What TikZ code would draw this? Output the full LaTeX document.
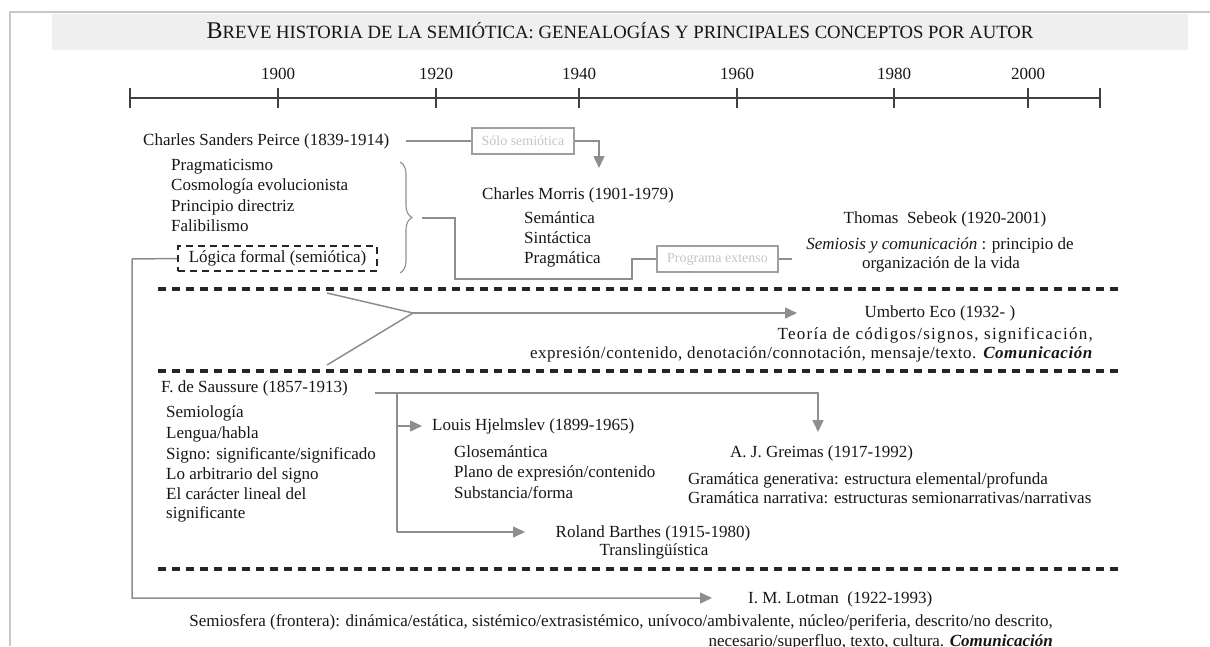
\documentclass[tikz,border=0pt]{standalone}
\usepackage{fontspec}
\setmainfont{Liberation Serif}
\usetikzlibrary{arrows.meta,decorations.pathreplacing}

\definecolor{ink}{HTML}{161616}
\definecolor{linkgray}{HTML}{8E8E8E}
\definecolor{faint}{HTML}{C4C4C4}
\definecolor{bandgray}{HTML}{EFEFEF}
\definecolor{framegray}{HTML}{C8C8C8}
\definecolor{axisgray}{HTML}{404040}
\newcommand\bodyfont{\fontsize{17}{20}\selectfont}
\newcommand\tagfont{\fontsize{14}{16}\selectfont}

\begin{document}
\begin{tikzpicture}[x=1pt,y=-1pt,
  txt/.style={inner sep=0pt, font=\bodyfont, text=ink, text height=12pt, text depth=4pt},
  lbl/.style={txt, anchor=west},
  rlbl/.style={txt, anchor=east},
  link/.style={draw=linkgray, line width=1.5pt},
  arr/.style={link, -{Triangle[length=12pt,width=11pt]}},
  sep/.style={draw=black!85, line width=3.4pt, dash pattern=on 8pt off 6pt},
  axis/.style={draw=axisgray, line width=2.2pt},
  tagbox/.style={draw=linkgray!85, line width=1.5pt, inner sep=0pt, font=\tagfont, text=faint,
    minimum height=26pt},
  logbox/.style={draw=black!85, line width=2pt, dash pattern=on 7pt off 5pt, inner sep=0pt,
    font=\bodyfont, text=ink, minimum width=199pt, minimum height=25pt}
]
\useasboundingbox (0,0) rectangle (1210,646);

% page frame and title band
\draw[framegray, line width=1.2pt] (10,646) -- (10,12) -- (1210,12);
\fill[bandgray] (52,14) rectangle (1188,50);
\node[inner sep=0pt, text=ink] (title) at (620,31)
  {{\fontsize{24}{26}\selectfont B}{\fontsize{18.7}{20}\selectfont REVE HISTORIA DE LA SEMIÓTICA: GENEALOGÍAS Y PRINCIPALES CONCEPTOS POR AUTOR}};

% timeline
\draw[axis] (130,98) -- (1100,98);
\draw[axis] (130,88) -- (130,108);
\draw[axis] (1100,88) -- (1100,108);
\foreach \x/\yr in {278/1900, 436/1920, 579/1940, 737/1960, 894/1980, 1028/2000}{
  \draw[axis] (\x,88) -- (\x,108);
  \node[txt] (yr\yr) at (\x,75) {\yr};
}

% Peirce
\node[lbl] (peirce) at (143,141) {Charles Sanders Peirce (1839-1914)};
\node[lbl] (peirce1) at (171,166) {Pragmaticismo};
\node[lbl] (peirce2) at (171,186.5) {Cosmología evolucionista};
\node[lbl] (peirce3) at (171,207) {Principio directriz};
\node[lbl] (peirce4) at (171,227) {Falibilismo};
\node[logbox] (logica) at (277.5,258.5) {Lógica formal (semiótica)};
\draw[linkgray, line width=1.1pt, decorate, decoration={brace, amplitude=12pt}]
  (400,162) -- (400,273);

\node[tagbox, minimum width=102pt] (solo) at (523,141) {Sólo semiótica};
\coordinate (morrisin) at (599,168);
\draw[link] ([xshift=17pt]peirce.east) -- (solo.west);
\draw[arr] (solo.east) -| (morrisin);

% Morris
\node[lbl] (morris) at (482,195) {Charles Morris (1901-1979)};
\node[lbl] (morris1) at (524,219) {Semántica};
\node[lbl] (morris2) at (524,239) {Sintáctica};
\node[lbl] (morris3) at (524,259) {Pragmática};

% path from the brace to Sebeok
\node[tagbox, minimum width=121pt] (prog) at (717.5,259) {Programa extenso};
\coordinate (bracetip) at (422,218);
\coordinate (sebeokin) at (792,259);
\draw[link] (bracetip) -- (455,218) -- (455,279) -- (632,279) -- (632,259) -- (prog.west);
\draw[link] (prog.east) -- (sebeokin);

% Sebeok
\node[txt] (sebeok) at (945,219) {Thomas\ \ Sebeok (1920-2001)};
\node[txt] (sebeok1) at (940,245) {\textit{Semiosis y comunicación} : principio de};
\node[txt] (sebeok2) at (941,264) {organización de la vida};

% separators
\coordinate (s1a) at (158,289); \coordinate (s1b) at (1122,289);
\coordinate (s2a) at (158,371); \coordinate (s2b) at (1122,371);
\coordinate (s3a) at (158,569); \coordinate (s3b) at (1122,569);
\draw[sep] (s1a) -- (s1b);
\draw[sep] (s2a) -- (s2b);
\draw[sep] (s3a) -- (s3b);

% Eco
\coordinate (ecoA) at (327,293);
\coordinate (ecoJ) at (413,313);
\coordinate (ecoB) at (327,365);
\coordinate (ecoin) at (797,313);
\draw[link] (ecoA) -- (ecoJ) -- (ecoB);
\draw[arr] (ecoJ) -- (ecoin);
\node[txt] (eco) at (940,313) {Umberto Eco (1932- )};
\node[rlbl] (eco1) at (1093,335) {\addfontfeature{LetterSpace=7.5}Teoría de códigos/signos, significación,};
\node[rlbl] (eco2) at (1093,354) {\addfontfeature{LetterSpace=3.2}expresión/contenido, denotación/connotación, mensaje/texto. \textbf{\textit{Comunicación}}};

% Saussure
\node[lbl] (saussure) at (161,388) {F. de Saussure (1857-1913)};
\node[lbl] (saussure1) at (166,413) {Semiología};
\node[lbl] (saussure2) at (166,434) {Lengua/habla};
\node[lbl] (saussure3) at (166,455) {Signo: significante/significado};
\node[lbl] (saussure4) at (166,475) {Lo arbitrario del signo};
\node[lbl] (saussure5) at (166,495) {El carácter lineal del};
\node[lbl] (saussure6) at (166,514) {significante};

\coordinate (sausout) at (375,393);
\coordinate (fork) at (397,393);
\coordinate (greimasin) at (818,432);
\coordinate (hjelmin) at (422,426);
\coordinate (barthesin) at (525,532);
\draw[arr] (sausout) -| (greimasin);
\draw[link] (fork) -- (397,532);
\draw[arr] (397,426) -- (hjelmin);
\draw[arr] (397,532) -- (barthesin);

% Hjelmslev
\node[lbl] (hjelm) at (432,426) {Louis Hjelmslev (1899-1965)};
\node[lbl] (hjelm1) at (454,453) {Glosemántica};
\node[lbl] (hjelm2) at (454,473) {Plano de expresión/contenido};
\node[lbl] (hjelm3) at (454,494) {Substancia/forma};

% Greimas
\node[lbl] (greimas) at (730,453) {A. J. Greimas (1917-1992)};
\node[lbl] (greimas1) at (688,480) {Gramática generativa: estructura elemental/profunda};
\node[lbl] (greimas2) at (688,499) {Gramática narrativa: estructuras semionarrativas/narrativas};

% Barthes
\node[txt] (barthes) at (653,533) {Roland Barthes (1915-1980)};
\node[txt] (barthes1) at (654,551) {Translingüística};

% Lotman
\coordinate (lotcorner) at (132,259);
\coordinate (lotin) at (712,598);
\draw[arr] (logica.west) -- (lotcorner) |- (lotin);
\node[lbl] (lotman) at (748,599) {I. M. Lotman\ \ (1922-1993)};
\node[rlbl] (lotman1) at (1053,622) {Semiosfera (frontera): dinámica/estática, sistémico/extrasistémico, unívoco/ambivalente, núcleo/periferia, descrito/no descrito,};
\node[rlbl] (lotman2) at (1053,642) {necesario/superfluo, texto, cultura. \textbf{\textit{Comunicación}}};
\end{tikzpicture}
\end{document}
